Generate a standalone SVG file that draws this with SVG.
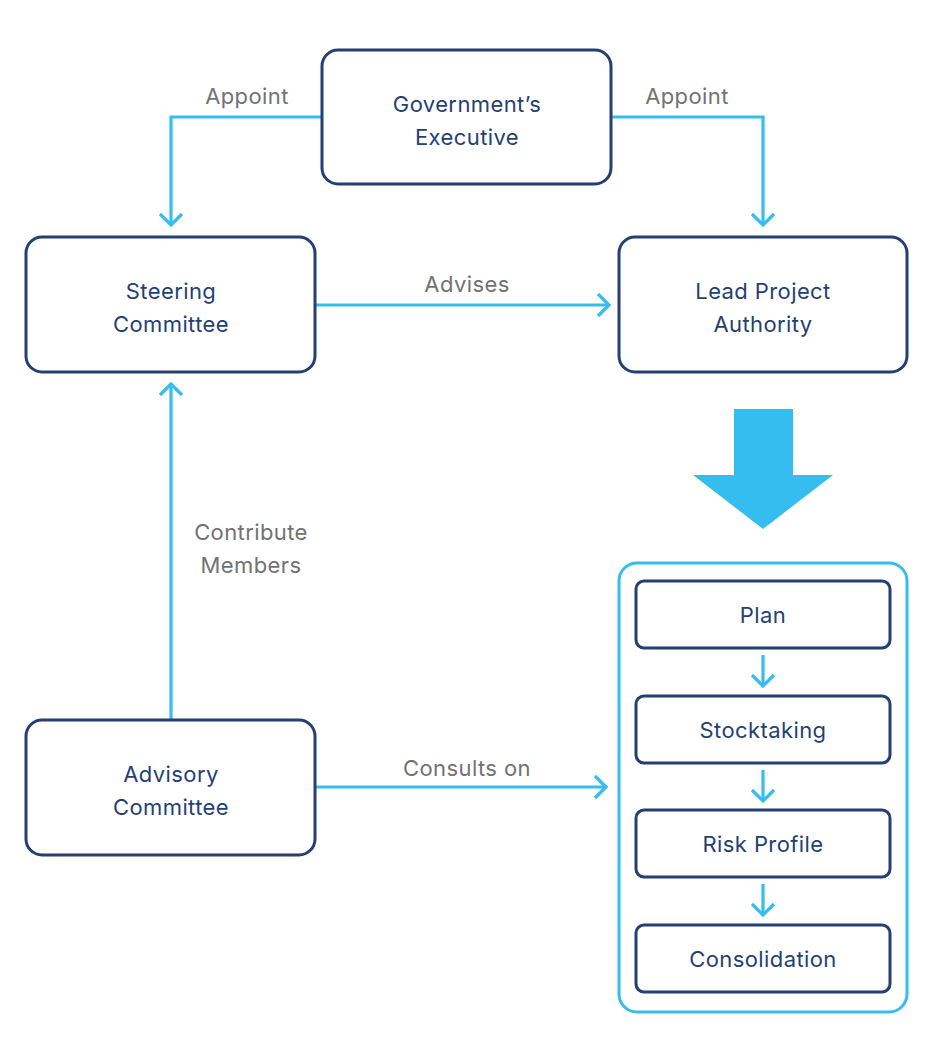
<svg xmlns="http://www.w3.org/2000/svg" width="932" height="1044" viewBox="0 0 932 1044">
<style>
.node{fill:#ffffff;stroke:#263f72;stroke-width:3}
.lbl{font-family:Inter,"Noto Sans",sans-serif;font-size:22px;letter-spacing:0.4px;fill:#263f72;text-anchor:middle}
.elbl{font-family:Inter,"Noto Sans",sans-serif;font-size:22px;letter-spacing:0.4px;fill:#727272;text-anchor:middle}
.conn{fill:none;stroke:#35bdf0;stroke-width:3.2}
</style>
<defs>
<marker id="arr" markerUnits="userSpaceOnUse" markerWidth="30" markerHeight="30" viewBox="-15 -15 30 30" refX="0" refY="0" orient="auto">
<path d="M-11,-11 L0,0 L-11,11" fill="none" stroke="#35bdf0" stroke-width="3.2"/>
</marker>
</defs>
<rect width="932" height="1044" fill="#ffffff"/>
<g id="connectors">
<path class="conn" d="M322,117 H171 V225" marker-end="url(#arr)"/>
<path class="conn" d="M611,117 H763 V225" marker-end="url(#arr)"/>
<path class="conn" d="M315,305 H609" marker-end="url(#arr)"/>
<path class="conn" d="M171,720 V384" marker-end="url(#arr)"/>
<path class="conn" d="M315,787 H606" marker-end="url(#arr)"/>
<path class="conn" d="M763,655 V686" marker-end="url(#arr)"/>
<path class="conn" d="M763,770 V801" marker-end="url(#arr)"/>
<path class="conn" d="M763,884 V915" marker-end="url(#arr)"/>
<text class="elbl" x="247" y="104">Appoint</text>
<text class="elbl" x="687" y="104">Appoint</text>
<text class="elbl" x="467" y="292">Advises</text>
<text class="elbl" x="251" y="540">Contribute</text>
<text class="elbl" x="251" y="573">Members</text>
<text class="elbl" x="467" y="776">Consults on</text>
</g>
<g id="big-arrow">
<polygon points="734,409 793,409 793,475 833,475 763,529 693,475 734,475" fill="#35bdf0"/>
</g>
<g id="gov-exec">
<rect class="node" x="322" y="50" width="289" height="134" rx="16"/>
<text class="lbl" x="467" y="112">Government’s</text>
<text class="lbl" x="467" y="145">Executive</text>
</g>
<g id="steering">
<rect class="node" x="26" y="237" width="289" height="135" rx="16"/>
<text class="lbl" x="171" y="299">Steering</text>
<text class="lbl" x="171" y="332">Committee</text>
</g>
<g id="lead">
<rect class="node" x="619" y="237" width="288" height="135" rx="16"/>
<text class="lbl" x="763" y="299">Lead Project</text>
<text class="lbl" x="763" y="332">Authority</text>
</g>
<g id="advisory">
<rect class="node" x="26" y="720" width="289" height="135" rx="16"/>
<text class="lbl" x="171" y="782">Advisory</text>
<text class="lbl" x="171" y="815">Committee</text>
</g>
<g id="process">
<rect x="619" y="563" width="288" height="449" rx="18" fill="none" stroke="#35bdf0" stroke-width="3"/>
</g>
<g id="plan">
<rect class="node" x="636" y="581" width="254" height="67" rx="8"/>
<text class="lbl" x="763" y="623">Plan</text>
</g>
<g id="stocktaking">
<rect class="node" x="636" y="696" width="254" height="67" rx="8"/>
<text class="lbl" x="763" y="738">Stocktaking</text>
</g>
<g id="risk">
<rect class="node" x="636" y="810" width="254" height="67" rx="8"/>
<text class="lbl" x="763" y="852">Risk Profile</text>
</g>
<g id="consolidation">
<rect class="node" x="636" y="925" width="254" height="67" rx="8"/>
<text class="lbl" x="763" y="967">Consolidation</text>
</g>
</svg>
